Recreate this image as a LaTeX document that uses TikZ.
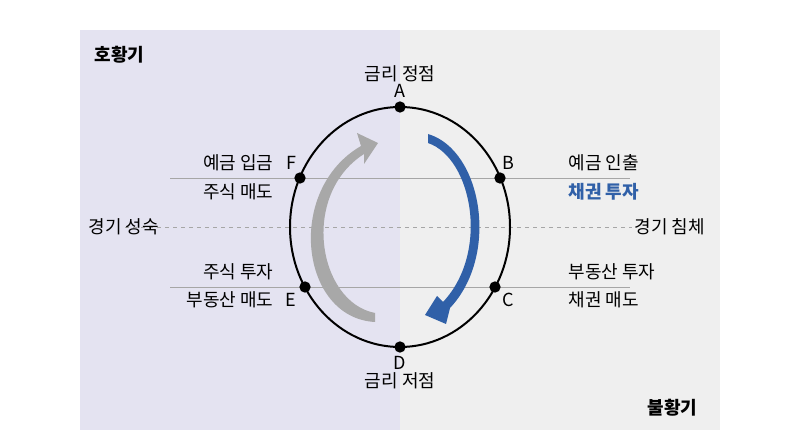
\documentclass[tikz,border=0pt]{standalone}
\usepackage{fontspec}
\usetikzlibrary{positioning}
\setmainfont{Noto Sans CJK KR}
\definecolor{lav}{HTML}{E4E3F1}
\definecolor{lgray}{HTML}{EFEFEF}
\definecolor{cblue}{HTML}{3060A8}
\definecolor{cgray}{HTML}{A8A8A8}
\begin{document}
\begin{tikzpicture}[x=0.75pt,y=-0.75pt,
  dot/.style={circle, fill=black, inner sep=0pt, minimum size=8.5pt}]
  \tikzstyle{every node}=[font=\fontsize{13.5}{15}\selectfont]
  \useasboundingbox (0,0) rectangle (800,445);
  \fill[lav] (80,30) rectangle (400,430);
  \fill[lgray] (400,30) rectangle (720,430);

  % guide lines
  \draw[gray!70] (170,178) -- (630,178);
  \draw[gray!70] (170,287) -- (630,287);
  \draw[gray!70, dashed] (125,227) -- (632,227);

  % cycle
  \draw[line width=1.5pt] (400,227) ellipse [x radius=110, y radius=120];
  \node[dot] (A) at (400,107) {};
  \node[dot] (B) at (500,178) {};
  \node[dot] (C) at (495,287) {};
  \node[dot] (D) at (400,347) {};
  \node[dot] (E) at (305,287) {};
  \node[dot] (F) at (300,178) {};

  \node (a) [above=-1pt of A] {A};
  \node (top) [above=-5pt of a] {금리 정점};
  \node (d) [below=-1pt of D] {D};
  \node (bottom) [below=-5pt of d] {금리 저점};
  \node at (508,163) {B};
  \node at (291,163) {F};
  \node at (508,300) {C};
  \node at (291,300) {E};

  % arrows
  \fill[cblue] (428,134) .. controls (482,150) and (500,255) .. (450,308)
    -- (446,324) -- (425,315) -- (437,296) -- (443,302)
    .. controls (490,252) and (472,158) .. (428,143) -- cycle;
  \fill[cgray] (375,322) .. controls (300,318) and (285,190) .. (361,146)
    -- (357,133) -- (378,143) -- (364,164) -- (364,154)
    .. controls (300,195) and (318,302) .. (375,313) -- cycle;

  % texts
  \node[anchor=east] at (278,163) {예금 입금};
  \node[anchor=east] at (278,192) {주식 매도};
  \node[anchor=west] at (84,227) {경기 성숙};
  \node[anchor=east] at (278,272) {주식 투자};
  \node[anchor=east] at (278,300) {부동산 매도};
  \node[anchor=west] at (564,163) {예금 인출};
  \node[anchor=west, text=cblue, font=\fontsize{13.5}{15}\selectfont\bfseries] at (564,192) {채권 투자};
  \node[anchor=west] at (630,227) {경기 침체};
  \node[anchor=west] at (564,272) {부동산 투자};
  \node[anchor=west] at (564,300) {채권 매도};
  \node[anchor=west, font=\fontsize{13.5}{15}\selectfont\bfseries] at (90,55) {호황기};
  \node[anchor=west, font=\fontsize{13.5}{15}\selectfont\bfseries] at (643,408) {불황기};
\end{tikzpicture}
\end{document}
